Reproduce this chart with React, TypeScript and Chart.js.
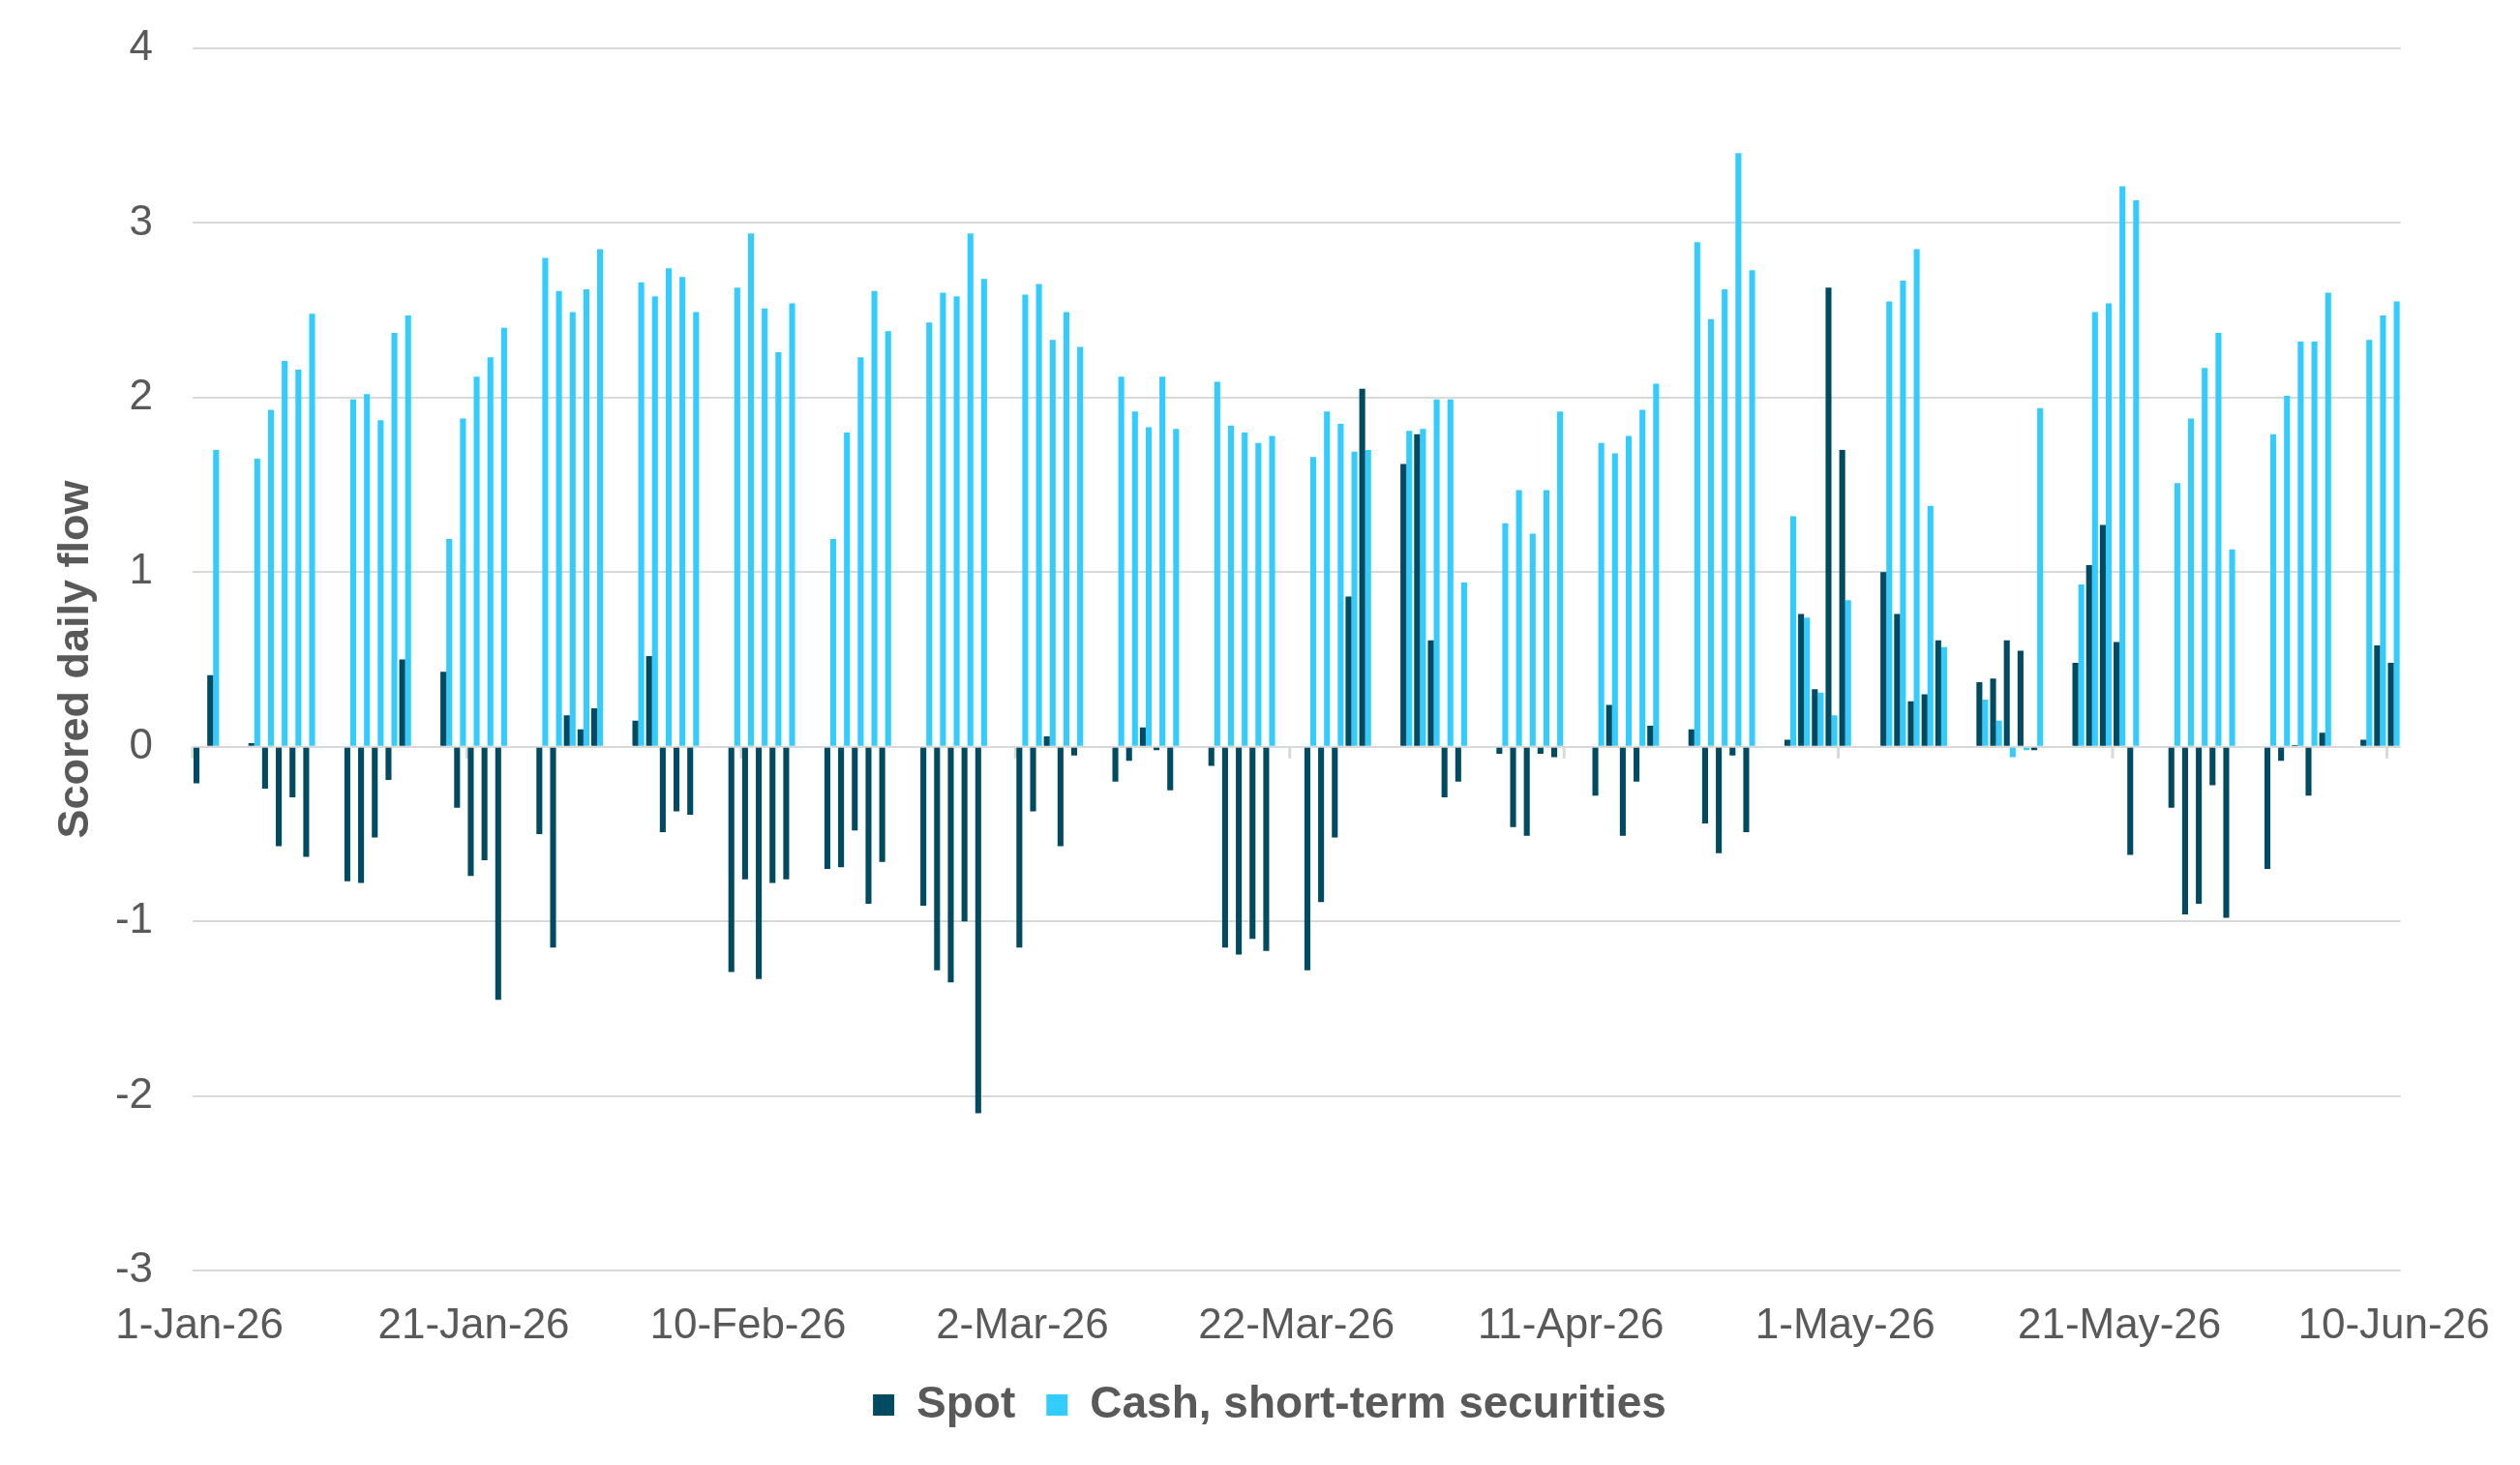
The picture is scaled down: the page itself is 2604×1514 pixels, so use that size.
import { useEffect, useRef } from "react";
import { Chart, registerables } from "chart.js";

Chart.register(...registerables);

// trading days (MM-DD, 2026) with a value; weekends are left empty on the daily axis
const tradeDays = [
    "01-01", "01-02", "01-05", "01-06", "01-07", "01-08", "01-09", "01-12", "01-13", "01-14", "01-15", "01-16",
    "01-19", "01-20", "01-21", "01-22", "01-23", "01-26", "01-27", "01-28", "01-29", "01-30",
    "02-02", "02-03", "02-04", "02-05", "02-06", "02-09", "02-10", "02-11", "02-12", "02-13",
    "02-16", "02-17", "02-18", "02-19", "02-20", "02-23", "02-24", "02-25", "02-26", "02-27",
    "03-02", "03-03", "03-04", "03-05", "03-06", "03-09", "03-10", "03-11", "03-12", "03-13",
    "03-16", "03-17", "03-18", "03-19", "03-20", "03-23", "03-24", "03-25", "03-26", "03-27", "03-30", "03-31",
    "04-01", "04-02", "04-03", "04-06", "04-07", "04-08", "04-09", "04-10", "04-13", "04-14", "04-15", "04-16", "04-17",
    "04-20", "04-21", "04-22", "04-23", "04-24", "04-27", "04-28", "04-29", "04-30",
    "05-01", "05-04", "05-05", "05-06", "05-07", "05-08", "05-11", "05-12", "05-13", "05-14", "05-15",
    "05-18", "05-19", "05-20", "05-21", "05-22", "05-25", "05-26", "05-27", "05-28", "05-29",
    "06-01", "06-02", "06-03", "06-04", "06-05", "06-08", "06-09", "06-10",
];

const spot = [
    -0.21, 0.41, 0.02, -0.24, -0.57, -0.29, -0.63, -0.77, -0.78, -0.52, -0.19, 0.5,
    0.43, -0.35, -0.74, -0.65, -1.45, -0.5, -1.15, 0.18, 0.1, 0.22,
    0.15, 0.52, -0.49, -0.37, -0.39, -1.29, -0.76, -1.33, -0.78, -0.76,
    -0.7, -0.69, -0.48, -0.9, -0.66, -0.91, -1.28, -1.35, -1.0, -2.1,
    -1.15, -0.37, 0.06, -0.57, -0.05, -0.2, -0.08, 0.11, -0.02, -0.25,
    -0.11, -1.15, -1.19, -1.1, -1.17, -1.28, -0.89, -0.52, 0.86, 2.05, 1.62, 1.79,
    0.61, -0.29, -0.2, -0.04, -0.46, -0.51, -0.04, -0.06, -0.28, 0.24, -0.51, -0.2, 0.12,
    0.1, -0.44, -0.61, -0.05, -0.49, 0.04, 0.76, 0.33, 2.63,
    1.7, 1.0, 0.76, 0.26, 0.3, 0.61, 0.37, 0.39, 0.61, 0.55, -0.02,
    0.48, 1.04, 1.27, 0.6, -0.62, -0.35, -0.96, -0.9, -0.22, -0.98,
    -0.7, -0.08, 0.01, -0.28, 0.08, 0.04, 0.58, 0.48,
];

const cash = [
    null, 1.7, 1.65, 1.93, 2.21, 2.16, 2.48, 1.99, 2.02, 1.87, 2.37, 2.47,
    1.19, 1.88, 2.12, 2.23, 2.4, 2.8, 2.61, 2.49, 2.62, 2.85,
    2.66, 2.58, 2.74, 2.69, 2.49, 2.63, 2.94, 2.51, 2.26, 2.54,
    1.19, 1.8, 2.23, 2.61, 2.38, 2.43, 2.6, 2.58, 2.94, 2.68,
    2.59, 2.65, 2.33, 2.49, 2.29, 2.12, 1.92, 1.83, 2.12, 1.82,
    2.09, 1.84, 1.8, 1.74, 1.78, 1.66, 1.92, 1.85, 1.69, 1.7, 1.81, 1.82,
    1.99, 1.99, 0.94, 1.28, 1.47, 1.22, 1.47, 1.92, 1.74, 1.68, 1.78, 1.93, 2.08,
    2.89, 2.45, 2.62, 3.4, 2.73, 1.32, 0.74, 0.31, 0.18,
    0.84, 2.55, 2.67, 2.85, 1.38, 0.57, 0.27, 0.15, -0.06, -0.02, 1.94,
    0.93, 2.49, 2.54, 3.21, 3.13, 1.51, 1.88, 2.17, 2.37, 1.13,
    1.79, 2.01, 2.32, 2.32, 2.6, 2.33, 2.47, 2.55,
];

const MONTHS = ["Jan", "Feb", "Mar", "Apr", "May", "Jun", "Jul", "Aug", "Sep", "Oct", "Nov", "Dec"];
const TICK_EVERY = 20; // Excel date axis major unit (days)

// daily calendar 1-Jan-26 .. 10-Jun-26
const dayKeys: string[] = [];
const dayLabels: string[] = [];
for (let i = 0; i <= 160; i++) {
    const d = new Date(Date.UTC(2026, 0, 1 + i));
    const mm = String(d.getUTCMonth() + 1).padStart(2, "0");
    const dd = String(d.getUTCDate()).padStart(2, "0");
    dayKeys.push(`${mm}-${dd}`);
    dayLabels.push(`${d.getUTCDate()}-${MONTHS[d.getUTCMonth()]}-26`);
}
const spotDaily = dayKeys.map((k) => {
    const idx = tradeDays.indexOf(k);
    return idx >= 0 ? spot[idx] : null;
});
const cashDaily = dayKeys.map((k) => {
    const idx = tradeDays.indexOf(k);
    return idx >= 0 ? cash[idx] : null;
});

const FONT = "'Liberation Sans', Arial, sans-serif";
const TEXT = "#595959";
const GRID = "#D9D9D9";

// small Excel-style tick marks hanging from the zero line
const zeroTicks = {
    id: "zeroTicks",
    afterLayout(chart: any) {
        // centre the legend under the plot like the original
        if (chart.legend) chart.legend.left += 140;
    },
    beforeDatasetsDraw(chart: any) {
        const { ctx } = chart;
        const xs = chart.scales.x;
        const ys = chart.scales.y;
        const y0 = ys.getPixelForValue(0);
        ctx.save();
        ctx.strokeStyle = GRID;
        ctx.lineWidth = 3;
        ctx.beginPath();
        for (let i = 0; i < dayLabels.length; i += TICK_EVERY) {
            const px = (xs.getPixelForValue(i) + xs.getPixelForValue(i - 1)) / 2;
            ctx.moveTo(px, y0);
            ctx.lineTo(px, y0 + 12);
        }
        ctx.stroke();
        ctx.restore();
    },
};

export default function App() {
    const chartRef = useRef<HTMLCanvasElement | null>(null);

    useEffect(() => {
        if (!chartRef.current) return;
        const ctx = chartRef.current.getContext("2d");
        if (!ctx) return;

        const myChart = new Chart(ctx, {
            type: "bar",
            data: {
                labels: dayLabels,
                datasets: [
                    {
                        label: "Spot",
                        data: spotDaily,
                        backgroundColor: "#004B62",
                        borderWidth: 0,
                    },
                    {
                        label: "Cash, short-term securities",
                        data: cashDaily,
                        backgroundColor: "#33CCFF",
                        borderWidth: 0,
                    },
                ],
            },
            options: {
                animation: false,
                responsive: true,
                maintainAspectRatio: false,
                datasets: {
                    bar: {
                        categoryPercentage: 0.86,
                        barPercentage: 1.0,
                    },
                },
                layout: {
                    padding: { top: 50, right: 120, bottom: 29, left: 0 },
                },
                plugins: {
                    tooltip: { enabled: false },
                    legend: {
                        position: "bottom",
                        labels: {
                            color: TEXT,
                            font: { family: FONT, size: 46, weight: "bold" },
                            boxWidth: 22,
                            boxHeight: 22,
                            padding: 32,
                        },
                    },
                },
                scales: {
                    x: {
                        grid: { display: false, drawTicks: false },
                        border: { display: false },
                        ticks: {
                            autoSkip: false,
                            maxRotation: 0,
                            minRotation: 0,
                            padding: 31,
                            color: TEXT,
                            font: { family: FONT, size: 44 },
                            callback: (_v: any, i: number) => (i % TICK_EVERY === 0 ? dayLabels[i] : ""),
                        },
                        afterFit: (scale: any) => {
                            scale.height = 84;
                        },
                    },
                    y: {
                        min: -3,
                        max: 4,
                        ticks: {
                            stepSize: 1,
                            padding: 41,
                            color: TEXT,
                            font: { family: FONT, size: 44 },
                        },
                        grid: { color: GRID, lineWidth: 2, drawTicks: false },
                        border: { display: false },
                        title: {
                            display: true,
                            text: "Scored daily flow",
                            color: TEXT,
                            font: { family: FONT, size: 45, weight: "bold" },
                            padding: { top: 52, bottom: 0 },
                        },
                        afterFit: (scale: any) => {
                            scale.width = 199;
                            // tick padding is only horizontal here; keep it out of the vertical layout
                            scale.paddingTop = 0;
                            scale.paddingBottom = 0;
                        },
                    },
                },
            },
            plugins: [zeroTicks],
        });

        return () => {
            myChart.destroy();
        };
    }, []);

    return (
        <div style={{ position: "fixed", left: 0, top: 0, width: 2604, height: 1514, background: "#ffffff" }}>
            <canvas ref={chartRef}></canvas>
        </div>
    );
}
